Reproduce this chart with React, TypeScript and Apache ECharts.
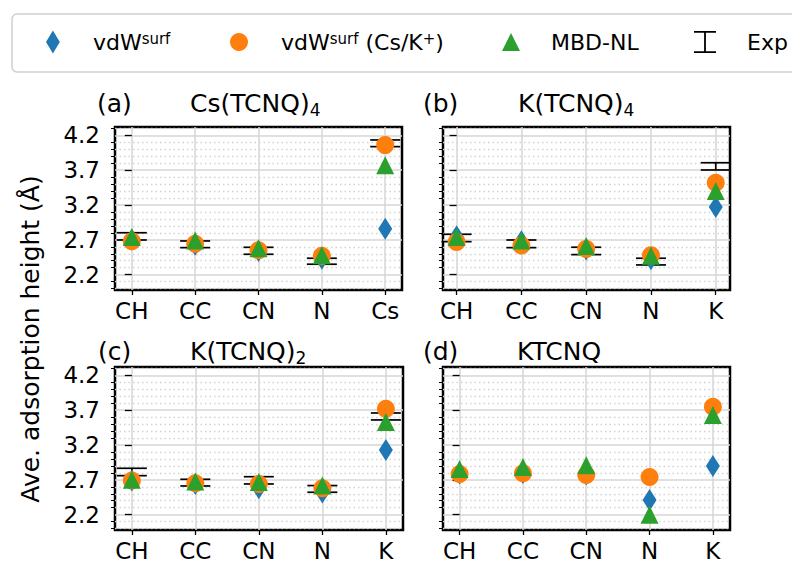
import React, { useEffect, useRef } from 'react';
import * as echarts from 'echarts';

const FONT = 'DejaVu Sans';
const BLUE = '#1f77b4';
const ORANGE = '#ff7f0e';
const GREEN = '#2ca02c';

// categories
const catsCs = ['CH', 'CC', 'CN', 'N', 'Cs'];
const catsK = ['CH', 'CC', 'CN', 'N', 'K'];

// tick values
const xTicks = [0, 1, 2, 3, 4];
const yMajor = [2.2, 2.7, 3.2, 3.7, 4.2];
const yMinor = [2.0, 2.1, 2.3, 2.4, 2.5, 2.6, 2.8, 2.9, 3.0, 3.1, 3.3, 3.4, 3.5, 3.6, 3.8, 3.9, 4.0, 4.1, 4.3];

// (a) Cs(TCNQ)4
const vdwA = [2.70, 2.63, 2.54, 2.43, 2.86];
const ionA = [2.68, 2.645, 2.55, 2.47, 4.06];
const mbdA = [2.74, 2.69, 2.58, 2.48, 3.77];
const expA = [2.75, 2.636, 2.543, 2.393, 4.086];
const errA = [0.052, 0.048, 0.05, 0.043, 0.048];

// (b) K(TCNQ)4
const vdwB = [2.75, 2.68, 2.56, 2.42, 3.17];
const ionB = [2.67, 2.62, 2.57, 2.48, 3.52];
const mbdB = [2.74, 2.69, 2.61, 2.47, 3.40];
const expB = [2.727, 2.643, 2.541, 2.388, 3.755];
const errB = [0.053, 0.055, 0.053, 0.048, 0.052];

// (c) K(TCNQ)2
const vdwC = [2.69, 2.64, 2.58, 2.52, 3.13];
const ionC = [2.69, 2.65, 2.64, 2.58, 3.72];
const mbdC = [2.70, 2.675, 2.67, 2.62, 3.53];
const expC = [2.813, 2.66, 2.693, 2.57, 3.61];
const errC = [0.053, 0.048, 0.052, 0.048, 0.05];

// (d) KTCNQ
const vdwD = [2.79, 2.80, 2.775, 2.41, 2.90];
const ionD = [2.785, 2.795, 2.77, 2.74, 3.75];
const mbdD = [2.855, 2.886, 2.91, 2.20, 3.63];

const DIAMOND = 'path://M0,-10L6,0L0,10L-6,0Z';
const TRIANGLE = 'path://M0,-10L10,10L-10,10Z';
const IBEAM = 'path://M0,0H22V1.8H0Z M10.1,0H11.9V22H10.1Z M0,20.2H22V22H0Z';

const panels = [
  { cats: catsCs, vdw: vdwA, ion: ionA, mbd: mbdA, exp: expA, err: errA, xMin: -0.265, xMax: 4.265, left: 115, top: 127, width: 287, showY: true },
  { cats: catsK, vdw: vdwB, ion: ionB, mbd: mbdB, exp: expB, err: errB, xMin: -0.21, xMax: 4.22, left: 443, top: 127, width: 287, showY: false },
  { cats: catsK, vdw: vdwC, ion: ionC, mbd: mbdC, exp: expC, err: errC, xMin: -0.265, xMax: 4.27, left: 115, top: 367, width: 288, showY: true },
  { cats: catsK, vdw: vdwD, ion: ionD, mbd: mbdD, exp: null as number[] | null, err: null as number[] | null, xMin: -0.262, xMax: 4.27, left: 443, top: 367, width: 287, showY: false },
];

const titles = [
  { text: '(a)', left: 97, top: 88 },
  { text: 'Cs(TCNQ){sub|4}', left: 190, top: 88 },
  { text: '(b)', left: 423, top: 88 },
  { text: 'K(TCNQ){sub|4}', left: 518, top: 88 },
  { text: '(c)', left: 98, top: 336 },
  { text: 'K(TCNQ){sub|2}', left: 190, top: 336 },
  { text: '(d)', left: 423, top: 336 },
  { text: 'KTCNQ', left: 517, top: 336 },
];

const legendLabels: Record<string, string> = {
  'vdWsurf': 'vdW{sup|surf}',
  'vdWsurf (Cs/K+)': 'vdW{sup|surf} (Cs/K{sup|+})',
  'MBD-NL': 'MBD-NL',
  'Exp': 'Exp',
};

export default function App() {
  const ref = useRef<HTMLDivElement>(null);
  useEffect(() => {
    document.body.style.margin = '0';
    const chart = echarts.init(ref.current!, null, { renderer: 'svg' });
    const YMIN = 1.98;
    const YMAX = 4.32;

    const grids: any[] = [];
    const xAxes: any[] = [];
    const yAxes: any[] = [];
    const series: any[] = [];

    panels.forEach((p, i) => {
      grids.push({
        left: p.left, top: p.top, width: p.width, height: 163,
        show: true, borderColor: '#000', borderWidth: 2.5, backgroundColor: 'transparent',
        containLabel: false, outerBoundsMode: 'none',
      });
      xAxes.push({
        type: 'value', gridIndex: i, min: p.xMin, max: p.xMax,
        axisLine: { show: false },
        axisTick: { show: true, customValues: xTicks, length: 5, lineStyle: { color: '#000', width: 1.3 } },
        axisLabel: {
          show: true, customValues: xTicks, formatter: (v: number) => p.cats[Math.round(v)],
          fontSize: 23, fontFamily: FONT, color: '#000', margin: 9,
        },
        splitLine: { show: true, lineStyle: { color: '#d6d6d6', width: 1.5 } },
      });
      yAxes.push({
        type: 'value', gridIndex: i, position: 'left', min: YMIN, max: YMAX,
        axisLine: { show: false },
        axisTick: { show: true, customValues: yMajor, length: 7, lineStyle: { color: '#000', width: 1.3 } },
        axisLabel: {
          show: p.showY, customValues: yMajor, formatter: (v: number) => v.toFixed(1),
          fontSize: 23, fontFamily: FONT, color: '#000', margin: 15,
        },
        splitLine: { show: true, lineStyle: { color: '#d6d6d6', width: 1.5 } },
      });
      yAxes.push({
        type: 'value', gridIndex: i, position: 'left', min: YMIN, max: YMAX,
        axisLine: { show: false },
        axisTick: { show: true, customValues: yMinor, length: 4, lineStyle: { color: '#000', width: 1 } },
        axisLabel: { show: false },
        splitLine: { show: true, lineStyle: { color: '#d2d2d2', width: 1.3, type: [1.5, 3] } },
      });
      series.push({
        type: 'scatter', name: 'vdWsurf', xAxisIndex: i, yAxisIndex: 2 * i,
        symbol: DIAMOND, symbolSize: [14, 22], itemStyle: { color: BLUE, opacity: 1 },
        data: p.vdw.map((v, j) => [j, v]),
      });
      series.push({
        type: 'scatter', name: 'vdWsurf (Cs/K+)', xAxisIndex: i, yAxisIndex: 2 * i,
        symbol: 'circle', symbolSize: 18, itemStyle: { color: ORANGE, opacity: 1 },
        data: p.ion.map((v, j) => [j, v]),
      });
      series.push({
        type: 'scatter', name: 'MBD-NL', xAxisIndex: i, yAxisIndex: 2 * i,
        symbol: TRIANGLE, symbolSize: [18, 18], itemStyle: { color: GREEN, opacity: 1 },
        data: p.mbd.map((v, j) => [j, v]),
      });
      if (p.exp && p.err) {
        const err = p.err;
        series.push({
          type: 'custom', name: 'Exp', xAxisIndex: i, yAxisIndex: 2 * i,
          itemStyle: { color: '#000' },
          encode: { x: 0, y: 1 },
          data: p.exp.map((v, j) => [j, v, err[j]]),
          renderItem: (params: any, api: any) => {
            const x = api.value(0);
            const y = api.value(1);
            const e = api.value(2);
            const t = api.coord([x, y + e]);
            const b = api.coord([x, y - e]);
            const hw = 15;
            const st = { stroke: '#000', lineWidth: 1.7 };
            return {
              type: 'group',
              children: [
                { type: 'line', shape: { x1: t[0], y1: t[1], x2: b[0], y2: b[1] }, style: st },
                { type: 'line', shape: { x1: t[0] - hw, y1: t[1], x2: t[0] + hw, y2: t[1] }, style: st },
                { type: 'line', shape: { x1: b[0] - hw, y1: b[1], x2: b[0] + hw, y2: b[1] }, style: st },
              ],
            };
          },
        });
      }
    });

    const legendText = {
      fontSize: 22, fontFamily: FONT, color: '#000',
      rich: { sup: { fontSize: 15, fontFamily: FONT, color: '#000', verticalAlign: 'top' } },
    };
    const mkLegend = (name: string, icon: string, left: number, top: number, w: number, h: number, color: string) => ({
      show: true, data: [{ name, icon, itemStyle: { color, opacity: 1 } }],
      left, top, itemWidth: w, itemHeight: h, padding: 0, selectedMode: false,
      formatter: (n: string) => legendLabels[n], textStyle: legendText,
    });

    const titleStyle = {
      fontSize: 25, fontWeight: 'normal', fontFamily: FONT, color: '#000', lineHeight: 30,
      rich: { sub: { fontSize: 17, lineHeight: 17, fontFamily: FONT, color: '#000', verticalAlign: 'bottom' } },
    };

    chart.setOption({
      animation: false,
      backgroundColor: '#fff',
      title: titles.map((t) => ({ text: t.text, left: t.left, top: t.top, padding: 0, textStyle: titleStyle })),
      legend: [
        mkLegend('vdWsurf', DIAMOND, 46, 30.5, 70, 23, BLUE),
        mkLegend('vdWsurf (Cs/K+)', 'circle', 230, 31, 74, 18, ORANGE),
        mkLegend('MBD-NL', TRIANGLE, 502, 31, 70, 18, GREEN),
        mkLegend('Exp', IBEAM, 694, 31, 74, 22, '#000'),
      ],
      grid: grids,
      xAxis: xAxes,
      yAxis: yAxes,
      series,
      graphic: [
        {
          type: 'rect', z: 0, silent: true,
          shape: { x: 12, y: 14, width: 800, height: 58, r: 5 },
          style: { fill: '#fff', stroke: '#cfcfcf', lineWidth: 1.5 },
        },
        {
          type: 'text', x: 30, y: 339, rotation: Math.PI / 2, silent: true,
          style: {
            text: 'Ave. adsorption height (Å)', fontSize: 25, fontFamily: FONT, fill: '#000',
            textAlign: 'center', textVerticalAlign: 'middle',
          },
        },
      ],
    });
    return () => chart.dispose();
  }, []);
  return <div ref={ref} style={{ position: 'absolute', left: 0, top: 0, width: 792, height: 563 }} />;
}
